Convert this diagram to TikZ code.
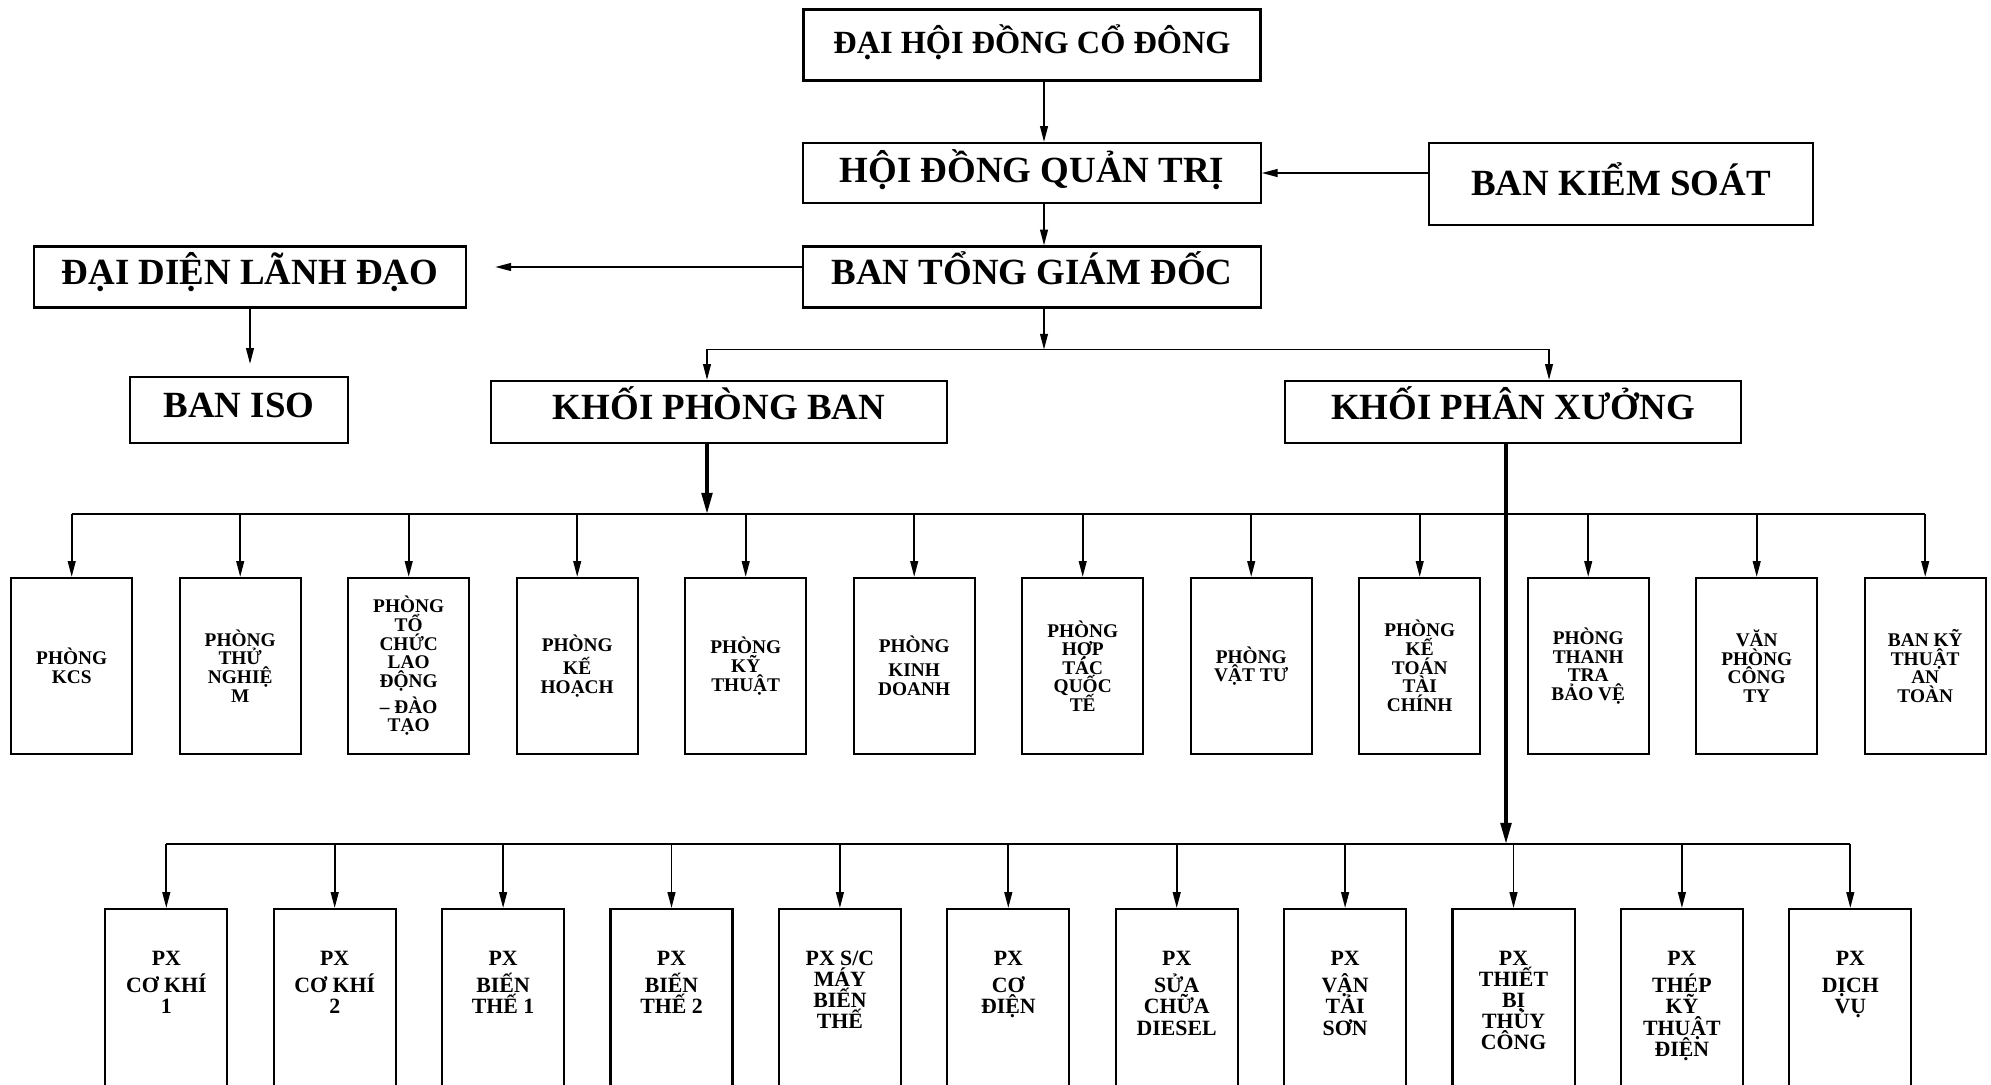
\documentclass[tikz,border=0pt]{standalone}
\usepackage{fontspec}
\setmainfont{Liberation Serif}
\usetikzlibrary{arrows.meta,positioning,calc}
\newcommand{\chuphong}{\bfseries\fontsize{5.5}{5.3}\selectfont\lineskiplimit=-10pt\relax}
\newcommand{\chuxuong}{\bfseries\fontsize{6.2}{6.0}\selectfont\lineskiplimit=-10pt\relax}

\begin{document}
\begin{tikzpicture}[x = 0.01cm, y = -0.01cm, > = {Triangle[length=4.5pt,width=2.2pt]},
	hop/.style = {draw, line width=0.6pt, inner sep=0pt, text height=9pt, text depth=4.5pt, font=\bfseries\fontsize{10.5}{12}\selectfont},
	phong/.style = {draw, line width=0.6pt, minimum width=1.21cm, minimum height=1.76cm, inner sep=0pt, align=center, font=\chuphong},
	xuong/.style = {draw, line width=0.6pt, minimum width=1.22cm, minimum height=2.2cm, anchor=north},
	chu/.style = {align=center, inner sep=0pt, font=\chuxuong},
	noi/.style = {line width=0.5pt},
	muiten/.style = {->, line width=0.5pt},
	muitenday/.style = {-{Triangle[length=6pt,width=3pt]}, line width=1pt}]
						\useasboundingbox (0,0) rectangle (1991,1084);
						\clip (0,0) rectangle (1991,1084);
						% Các khối lãnh đạo
						\node[hop, line width=1pt, minimum width=4.57cm, minimum height=0.71cm, text height=8pt, text depth=3.3pt, font=\bfseries\fontsize{9.2}{11}\selectfont] (dhcd) at (1032,45) {ĐẠI HỘI ĐỒNG CỔ ĐÔNG};
						\node[hop, minimum width=4.57cm, minimum height=0.60cm, text depth=3.6pt] (hdqt) at (1032,173) {HỘI ĐỒNG QUẢN TRỊ};
						\node[hop, minimum width=3.84cm, minimum height=0.82cm, text depth=2.7pt] (bks) at (1621,184) {BAN KIỂM SOÁT};
						\node[hop, minimum width=4.57cm, minimum height=0.61cm] (btgd) at (1032,277) {BAN TỔNG GIÁM ĐỐC};
						\node[hop, minimum width=4.32cm, minimum height=0.61cm] (ddld) at (250,277) {ĐẠI DIỆN LÃNH ĐẠO};
						\node[hop, minimum width=2.18cm, minimum height=0.66cm] (iso) at (239,410) {BAN ISO};
						\node[hop, minimum width=4.56cm, minimum height=0.62cm] (kpb) at (719,412) {KHỐI PHÒNG BAN};
						\node[hop, minimum width=4.56cm, minimum height=0.62cm] (kpx) at (1513,412) {KHỐI PHÂN XƯỞNG};
						\draw[muiten] ([xshift=0.12cm]dhcd.south) -- ([xshift=0.12cm]hdqt.north);
						\draw[muiten] (bks.west |- hdqt.east) -- (hdqt.east);
						\draw[muiten] ([xshift=0.12cm]hdqt.south) -- ([xshift=0.12cm]btgd.north);
						\draw[muiten, shorten >=0.28cm] ([yshift=0.1cm]btgd.west) -- ([yshift=0.1cm]ddld.east);
						\draw[muiten, shorten >=0.12cm] (ddld) -- (ddld.south |- iso.north);
						% Nhánh xuống hai khối
						\coordinate (ngatu) at ($([xshift=0.12cm]btgd.south)+(0,41)$);
						\coordinate (vaokpb) at ([xshift=-0.12cm]kpb.north);
						\coordinate (vaokpx) at ([xshift=0.36cm]kpx.north);
						\draw[muiten] ([xshift=0.12cm]btgd.south) -- (ngatu);
						\draw[muiten] (ngatu) -| (vaokpb);
						\draw[muiten] (ngatu) -| (vaokpx);
						% Các phòng ban
						\foreach \i/\ten in {1/{PHÒNG\\KCS}, 2/{PHÒNG\\THỬ\\NGHIỆ\\M},
							3/{PHÒNG\\TỔ\\CHỨC\\LAO\\ĐỘNG\\[2pt]– ĐÀO\\TẠO}, 4/{PHÒNG\\[1.2pt]KẾ\\HOẠCH},
							5/{PHÒNG\\KỸ\\THUẬT}, 6/{PHÒNG\\[1.5pt]KINH\\DOANH}, 7/{PHÒNG\\HỢP\\TÁC\\QUỐC\\TẾ},
							8/{PHÒNG\\VẬT TƯ}, 9/{PHÒNG\\KẾ\\TOÁN\\TÀI\\CHÍNH}, 10/{PHÒNG\\THANH\\TRA\\BẢO VỆ},
							11/{VĂN\\PHÒNG\\CÔNG\\TY}, 12/{BAN KỸ\\THUẬT\\AN\\TOÀN}}
						\node[phong] (p\i) at ({71.7+168.5*(\i-1)},666) {\ten};
						\coordinate (truc1) at (0,514);
						\coordinate (rakpb) at ([xshift=-0.12cm]kpb.south);
						\draw[muitenday] (rakpb) -- (rakpb |- truc1);
						\draw[noi] (p1.north |- truc1) -- (p12.north |- truc1);
						\foreach \i in {1,...,12}
						\draw[muiten] (p\i.north |- truc1) -- (p\i.north);
						% Các phân xưởng
						\foreach \i/\ten in {1/{PX\\[1.9pt]CƠ KHÍ\\1}, 2/{PX\\[1.9pt]CƠ KHÍ\\2}, 3/{PX\\[1.9pt]BIẾN\\THẾ 1},
							4/{PX\\[1.9pt]BIẾN\\THẾ 2}, 5/{PX S/C\\MÁY\\BIẾN\\THẾ}, 6/{PX\\[1.9pt]CƠ\\ĐIỆN},
							7/{PX\\[1.9pt]SỬA\\CHỮA\\DIESEL}, 8/{PX\\[1.9pt]VẬN\\TẢI\\SƠN}, 9/{PX\\THIẾT\\BỊ\\THỦY\\CÔNG},
							10/{PX\\[1.9pt]THÉP\\KỸ\\THUẬT\\ĐIỆN}, 11/{PX\\[1.9pt]DỊCH\\VỤ}}
						{
							\node[xuong] (px\i) at ({166.3+168.4*(\i-1)},908) {};
							\node[chu, anchor=north, below=0.42cm of px\i.north] (pxt\i) {\ten};
						}
						\coordinate (truc2) at (0,844);
						\draw[muitenday] ([xshift=-0.07cm]kpx.south) -- ([xshift=-0.07cm]kpx.south |- truc2);
						\draw[noi] (px1.north |- truc2) -- (px11.north |- truc2);
						\foreach \i in {1,...,11}
						\draw[muiten] (px\i.north |- truc2) -- (px\i.north);
\end{tikzpicture}
\end{document}
